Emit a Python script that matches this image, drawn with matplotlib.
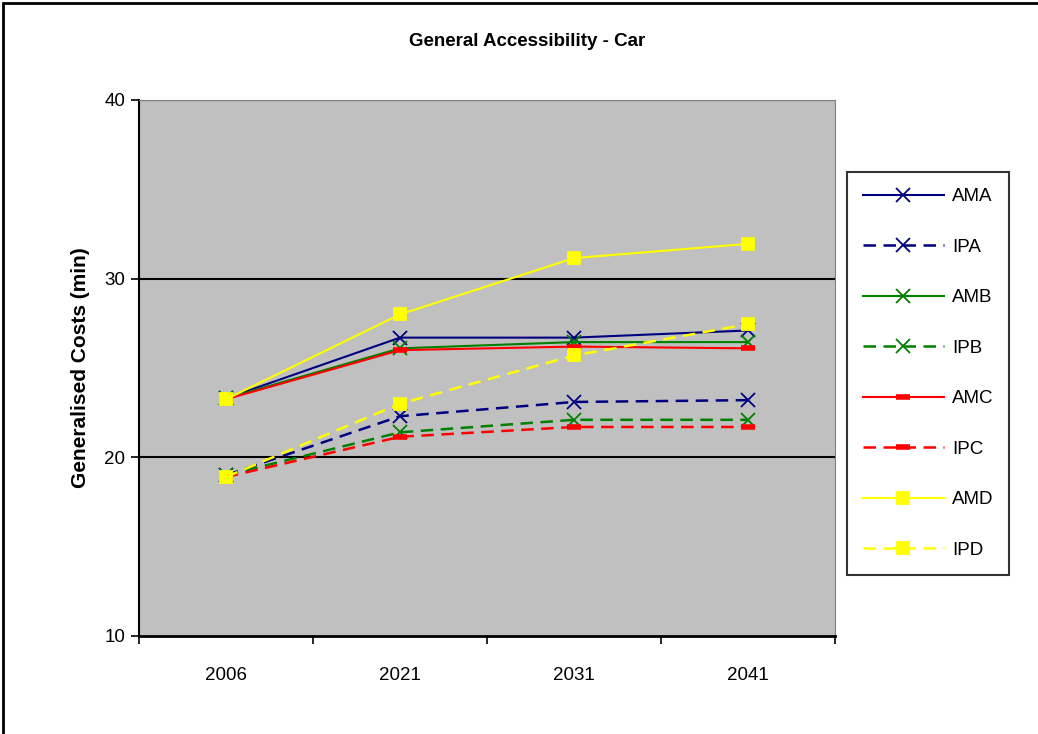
import matplotlib.pyplot as plt
from matplotlib.patches import Rectangle

years = ['2006', '2021', '2031', '2041']

ama = [23.3, 26.7, 26.7, 27.1]
ipa = [19.0, 22.3, 23.1, 23.2]
amb = [23.3, 26.1, 26.45, 26.45]
ipb = [19.0, 21.4, 22.1, 22.1]
amc = [23.25, 26.0, 26.2, 26.1]
ipc = [18.9, 21.15, 21.7, 21.7]
amd = [23.25, 28.0, 31.15, 31.95]
ipd = [18.9, 23.0, 25.7, 27.45]

plt.rcParams['font.family'] = ['Liberation Sans', 'DejaVu Sans']

W, H = 1038, 734
fig = plt.figure(figsize=(W / 100, H / 100), dpi=100)

# outer chart border (cut at right and bottom like the reference)
fig.patches.append(Rectangle((3 / W, -0.1), 1.2, (H - 3) / H + 0.1, transform=fig.transFigure,
                             fill=False, edgecolor='black', linewidth=2))

ax = fig.add_axes([139 / W, (H - 636) / H, 696 / W, 536 / H])
ax.set_facecolor('#C0C0C0')

x = range(len(years))
navy, green, red, yellow = '#000080', '#008000', '#FF0000', '#FFFF00'
dash = (0, (5, 3))

series = [
    ('AMA', ama, navy, '-', 'x', 10),
    ('IPA', ipa, navy, dash, 'x', 10),
    ('AMB', amb, green, '-', 'x', 10),
    ('IPB', ipb, green, dash, 'x', 10),
    ('AMC', amc, red, '-', '_', 10),
    ('IPC', ipc, red, dash, '_', 10),
    ('AMD', amd, yellow, '-', 's', 8),
    ('IPD', ipd, yellow, dash, 's', 8),
]
for name, vals, col, ls, mk, ms in series:
    mew = 4 if mk == '_' else 1.3
    ax.plot(x, vals, color=col, linestyle=ls, linewidth=1.8 if ls != '-' else 1.5,
            marker=mk, markersize=ms, markeredgewidth=mew, markeredgecolor=col,
            markerfacecolor=col, label=name)

ax.set_ylim(10, 40)
ax.set_yticks([10, 20, 30, 40])
ax.set_xlim(-0.5, 3.5)
ax.set_xticks([-0.5, 0.5, 1.5, 2.5, 3.5])
ax.set_xticklabels([])
ax.set_xticks(list(x), minor=True)
ax.set_xticklabels(years, minor=True)
ax.tick_params(axis='x', which='minor', length=0, pad=22, labelsize=13.5)
ax.tick_params(axis='x', which='major', length=6, width=1.2, direction='out')
ax.tick_params(axis='y', length=6, width=1.2, direction='out', labelsize=13.5, pad=4)

for yv in [20, 30, 40]:
    ax.axhline(yv, color='black', linewidth=1.5, zorder=1)
ax.spines['left'].set_linewidth(1.5)
ax.spines['bottom'].set_linewidth(2)
ax.spines['top'].set_color('#808080')
ax.spines['right'].set_color('#808080')

ax.set_ylabel('Generalised Costs (min)', fontsize=15, fontweight='bold', labelpad=10)
fig.text(527 / W, 1 - 42 / H, 'General Accessibility - Car', ha='center', va='center',
         fontsize=13.5, fontweight='bold')

leg = ax.legend(loc='upper left', bbox_to_anchor=(847 / W, 1 - 172 / H),
                bbox_transform=fig.transFigure, frameon=True, fancybox=False,
                edgecolor='black', fontsize=13.5, handlelength=4.3, labelspacing=1.78,
                borderpad=0.85, handletextpad=0.45, borderaxespad=0)
leg.get_frame().set_linewidth(1.5)

fig.savefig('out.png', dpi=100)
